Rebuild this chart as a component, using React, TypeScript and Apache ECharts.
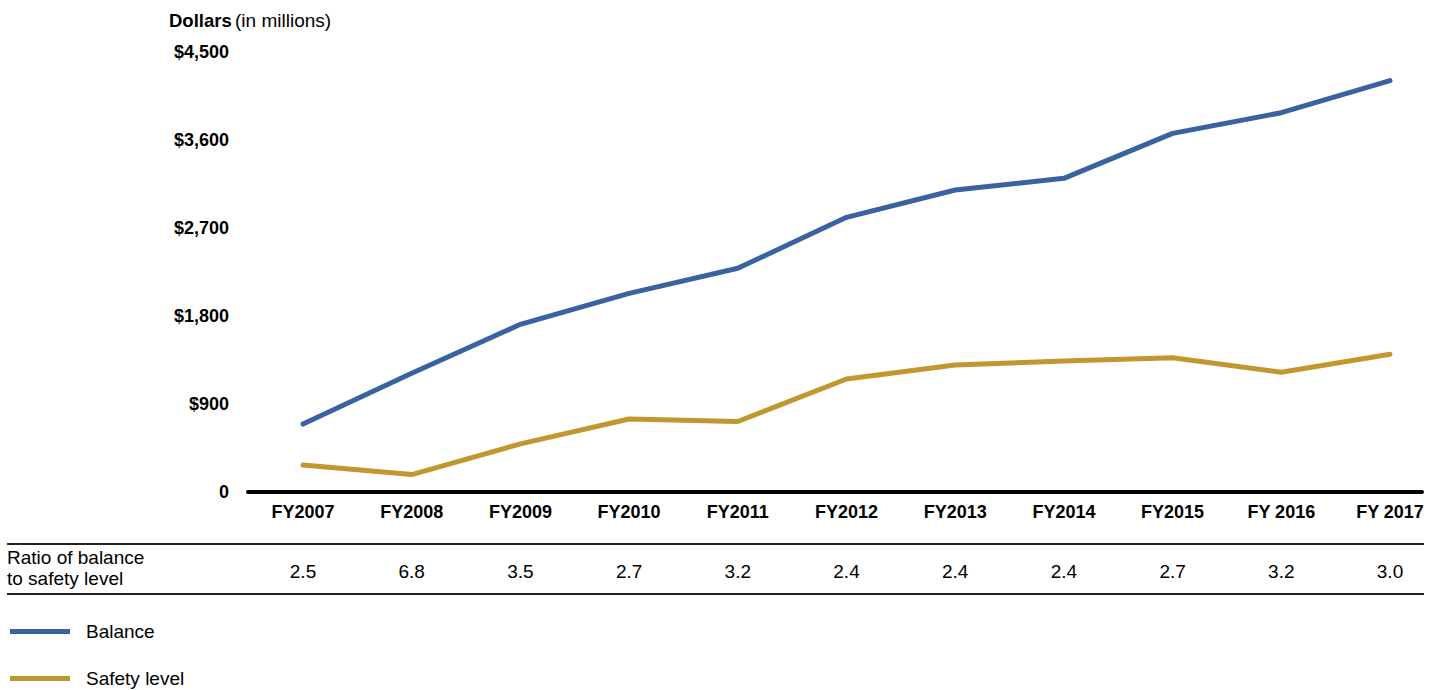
import React, { useEffect, useRef } from "react";
import * as echarts from "echarts";

const categories = ["FY2007", "FY2008", "FY2009", "FY2010", "FY2011", "FY2012", "FY2013", "FY2014", "FY2015", "FY 2016", "FY 2017"];
const balance = [695, 1214, 1715, 2032, 2288, 2809, 3089, 3208, 3668, 3879, 4207];
const safetyLevel = [276, 178, 492, 747, 721, 1156, 1299, 1340, 1374, 1224, 1408];
const ratios = ["2.5", "6.8", "3.5", "2.7", "3.2", "2.4", "2.4", "2.4", "2.7", "3.2", "3.0"];
const yTicks = { min: 0, max: 4500, interval: 900 };

const FONT = "'Liberation Sans', Arial, sans-serif";
const BLUE = "#3863A0";
const GOLD = "#C0982F";

export default function App() {
  const ref = useRef<HTMLDivElement>(null);
  useEffect(() => {
    if (!ref.current) return;
    const chart = echarts.init(ref.current, null, { renderer: "svg" });
    const legendBase = {
      orient: "horizontal",
      left: 10,
      padding: 0,
      itemWidth: 60,
      itemHeight: 5,
      icon: "rect",
      textStyle: { fontSize: 19, color: "#000", fontFamily: FONT, padding: [0, 0, 0, 11] },
    };
    chart.setOption({
      animation: false,
      backgroundColor: "#ffffff",
      textStyle: { fontFamily: FONT },
      grid: [
        { left: 303, right: 50, top: 52, bottom: 198 },
        { left: 248, right: 18, top: 52, bottom: 198 },
      ],
      xAxis: [
        {
          type: "category",
          gridIndex: 0,
          data: categories,
          boundaryGap: false,
          axisLine: { show: false },
          axisTick: { show: false },
          axisLabel: {
            margin: 11,
            fontSize: 18,
            fontWeight: "bold",
            color: "#000",
            fontFamily: FONT,
            interval: 0,
          },
        },
        {
          type: "category",
          gridIndex: 0,
          data: categories,
          boundaryGap: false,
          position: "bottom",
          axisLine: { show: false },
          axisTick: { show: false },
          axisLabel: {
            margin: 70,
            fontSize: 19,
            color: "#000",
            fontFamily: FONT,
            interval: 0,
            formatter: (_v: string, i: number) => ratios[i],
          },
        },
        {
          type: "category",
          gridIndex: 1,
          data: [""],
          axisLine: { show: true, lineStyle: { color: "#000", width: 4 } },
          axisTick: { show: false },
          axisLabel: { show: false },
        },
      ],
      yAxis: [
        {
          type: "value",
          gridIndex: 0,
          min: yTicks.min,
          max: yTicks.max,
          interval: yTicks.interval,
          splitLine: { show: false },
          axisLine: { show: false },
          axisTick: { show: false },
          axisLabel: {
            margin: 74,
            fontSize: 18,
            fontWeight: "bold",
            color: "#000",
            fontFamily: FONT,
            formatter: (v: number) => (v === 0 ? "0" : "$" + v.toLocaleString("en-US")),
          },
        },
        {
          type: "value",
          gridIndex: 1,
          min: 0,
          max: 1,
          show: false,
        },
      ],
      legend: [
        { ...legendBase, top: 622, data: ["Balance"] },
        { ...legendBase, top: 669, data: ["Safety level"] },
      ],
      graphic: [
        {
          type: "text",
          left: 169,
          top: 11,
          style: {
            text: "{b|Dollars} {n|(in millions)}",
            rich: {
              b: { fontSize: 18.5, fontWeight: "bold", fill: "#000", fontFamily: FONT },
              n: { fontSize: 19, fill: "#000", fontFamily: FONT },
            },
          },
        },
        {
          type: "text",
          left: 7,
          top: 547,
          style: {
            text: "Ratio of balance\nto safety level",
            fontSize: 19,
            lineHeight: 21,
            fill: "#000",
            fontFamily: FONT,
          },
        },
        {
          type: "line",
          shape: { x1: 7, y1: 544, x2: 1424, y2: 544 },
          style: { stroke: "#222", lineWidth: 2 },
        },
        {
          type: "line",
          shape: { x1: 7, y1: 594, x2: 1424, y2: 594 },
          style: { stroke: "#222", lineWidth: 2 },
        },
      ],
      series: [
        {
          name: "Balance",
          type: "line",
          xAxisIndex: 0,
          yAxisIndex: 0,
          data: balance,
          showSymbol: false,
          symbol: "none",
          lineStyle: { color: BLUE, width: 5, cap: "round" },
          itemStyle: { color: BLUE },
        },
        {
          name: "Safety level",
          type: "line",
          xAxisIndex: 0,
          yAxisIndex: 0,
          data: safetyLevel,
          showSymbol: false,
          symbol: "none",
          lineStyle: { color: GOLD, width: 5, cap: "round" },
          itemStyle: { color: GOLD },
        },
      ],
    });
    return () => chart.dispose();
  }, []);
  return (
    <div
      ref={ref}
      style={{ position: "fixed", left: 0, top: 0, width: 1440, height: 690, background: "#fff" }}
    />
  );
}
